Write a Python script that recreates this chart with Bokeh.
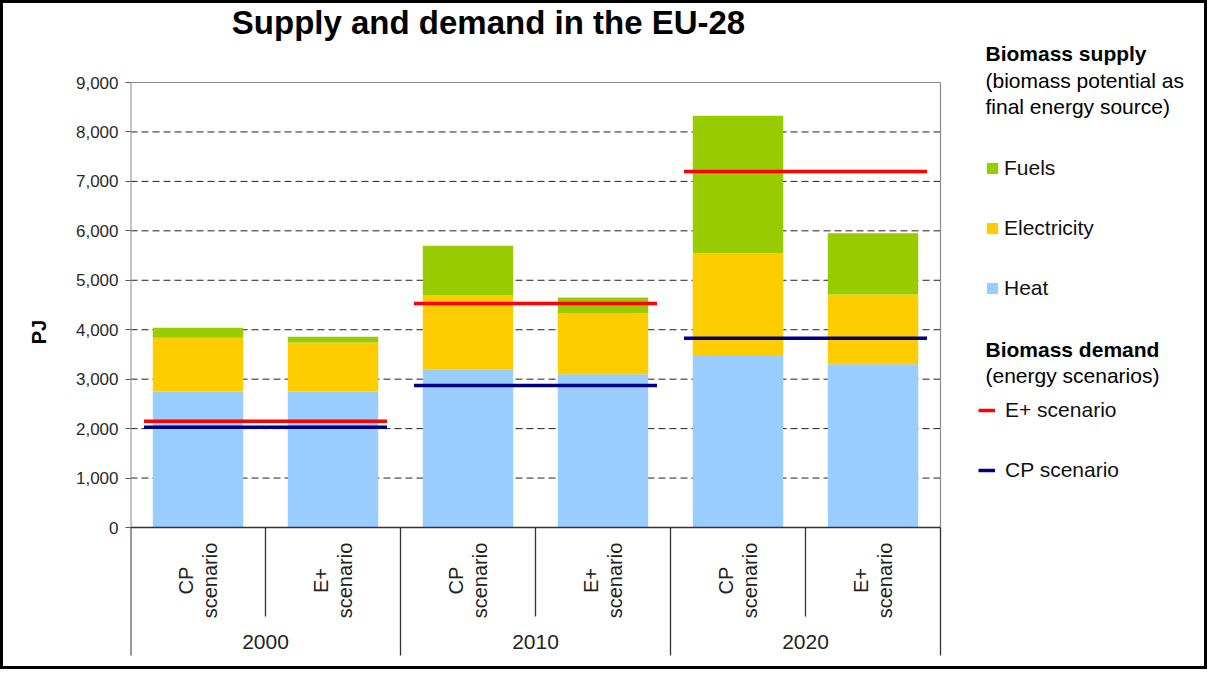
import math
from bokeh.plotting import figure
from bokeh.models import (ColumnDataSource, Range1d, FixedTicker,
                          NumeralTickFormatter, Legend, LegendItem, Label)
from bokeh.core.properties import value
from bokeh.embed import file_html
from bokeh.resources import INLINE

# ---------------- data ----------------
years = ["2000", "2010", "2020"]
scenarios = ["CP\nscenario", "E+\nscenario"]
heat = [2750, 2750, 3200, 3100, 3470, 3300]
electricity = [1090, 990, 1490, 1230, 2080, 1410]
fuels = [200, 120, 1010, 320, 2780, 1240]
demand_eplus = [2150, 4530, 7200]
demand_cp = [2030, 2870, 3830]
y_ticks = [0, 1000, 2000, 3000, 4000, 5000, 6000, 7000, 8000, 9000]

supply_names = ["Heat", "Electricity", "Fuels"]
supply_colors = ["#99CCFF", "#FFCC00", "#99CC00"]

FONT = "Liberation Sans"

# ---------------- layout (pixels) ----------------
W, H = 1207, 669
FRAME_L, FRAME_B = 127, 657          # frame left / bottom in canvas px
PX_ZERO, PX_TOP = 524, 79            # canvas y of value 0 and of the top tick
CAT_PX = 135                         # width of one category in px

n_groups = len(years)
n_sub = len(scenarios)
n_cats = n_groups * n_sub
units_per_px = y_ticks[-1] / (PX_ZERO - PX_TOP)
y_start = -(FRAME_B - PX_ZERO) * units_per_px
y_end = y_ticks[-1] + PX_TOP * units_per_px
x_end = (W - FRAME_L) / CAT_PX

cats = [(y, s) for y in years for s in scenarios]
xc = [i + 0.5 for i in range(n_cats)]
source = ColumnDataSource(dict(x=xc, Heat=heat, Electricity=electricity, Fuels=fuels))

p = figure(width=W, height=H, output_backend="svg", toolbar_location=None,
           x_range=Range1d(0, x_end), y_range=Range1d(y_start, y_end),
           x_axis_location=None,
           min_border_left=FRAME_L, min_border_right=0, min_border_top=0,
           min_border_bottom=H - FRAME_B)
p.outline_line_color = None
p.background_fill_color = "white"
p.border_fill_color = "white"
p.styles = {"border": "3px solid black"}
p.xgrid.visible = False
p.ygrid.visible = False

# y axis
yax = p.yaxis[0]
yax.ticker = FixedTicker(ticks=y_ticks)
yax.formatter = NumeralTickFormatter(format="0,0")
yax.axis_line_color = None
yax.major_tick_in = 0
yax.major_tick_out = 5
yax.major_tick_line_color = "#555555"
yax.minor_tick_line_color = None
yax.major_label_text_font = FONT
yax.major_label_text_font_size = "17px"
yax.major_label_text_color = "#2a2a2a"
yax.major_label_standoff = 7
yax.axis_label = "PJ"
yax.axis_label_text_font = FONT
yax.axis_label_text_font_size = "20px"
yax.axis_label_text_font_style = "bold"
yax.axis_label_text_color = "black"
yax.axis_label_standoff = 23

# dashed grid lines (only across the plot area)
grid_vals = y_ticks[1:-1]
p.segment(x0=0, x1=n_cats, y0=grid_vals, y1=grid_vals, line_color="#222222",
          line_width=1, line_dash="7 4")

# bars
bars = p.vbar_stack(supply_names, x="x", width=0.67, color=supply_colors,
                    line_color=None, source=source)

# plot-area frame lines
top_v = y_ticks[-1]
p.segment(x0=[0, n_cats, 0], x1=[0, n_cats, n_cats], y0=[0, 0, top_v], y1=[top_v, top_v, top_v],
          line_color="#8a8a8a", line_width=[2, 1.2, 1.2])
p.segment(x0=0, x1=n_cats, y0=0, y1=0, line_color="#333333", line_width=1.5)

# category separators
grp_bounds = [g * n_sub for g in range(n_groups + 1)]
sub_bounds = [g * n_sub + k for g in range(n_groups) for k in range(1, n_sub)]
p.segment(x0=grp_bounds, x1=grp_bounds, y0=-2590, y1=0, line_color="#333333",
          line_width=[2, 1.3, 1.3, 1.3])
p.segment(x0=sub_bounds, x1=sub_bounds, y0=-1800, y1=0, line_color="#333333", line_width=1.3)

# category labels
p.text(x=xc, y=-1072, text=[c[1] for c in cats], angle=math.pi / 2,
       text_align="center", text_baseline="middle", text_font=value(FONT),
       text_font_size="20px", text_color="#222222", text_line_height=1.05)
gx = [g * n_sub + n_sub / 2 for g in range(n_groups)]
p.text(x=gx, y=-2306, text=years, text_align="center", text_baseline="middle",
       text_font=value(FONT), text_font_size="21px", text_color="#222222")

# demand lines
x0s = [c - 0.9 for c in gx]
x1s = [c + 0.9 for c in gx]
r_e = p.segment(x0=x0s, x1=x1s, y0=demand_eplus, y1=demand_eplus, line_color="#FF0000", line_width=3.5)
r_c = p.segment(x0=x0s, x1=x1s, y0=demand_cp, y1=demand_cp, line_color="#000080", line_width=3.5)

# title
p.add_layout(Label(x=358, y=638, x_units="screen", y_units="screen",
                   text="Supply and demand in the EU-28", text_font=FONT,
                   text_font_size="33px", text_font_style="bold", text_color="black",
                   text_align="center", text_baseline="middle"))

# legends
leg1 = Legend(items=[LegendItem(label="Fuels", renderers=[bars[2]]),
                     LegendItem(label="Electricity", renderers=[bars[1]]),
                     LegendItem(label="Heat", renderers=[bars[0]])],
              location=(855, 360))
leg2 = Legend(items=[LegendItem(label="E+ scenario", renderers=[r_e]),
                     LegendItem(label="CP scenario", renderers=[r_c])],
              location=(848, 178))
for lg, gw, st in ((leg1, 14, 5), (leg2, 17, 10)):
    lg.glyph_width = gw
    lg.glyph_height = 14
    lg.label_standoff = st
    lg.label_height = 24
    lg.spacing = 36
    lg.padding = 0
    lg.margin = 0
    lg.border_line_color = None
    lg.background_fill_alpha = 0
    lg.label_text_font = FONT
    lg.label_text_font_size = "21px"
    lg.label_text_color = "#111111"
    p.add_layout(lg, "center")

for txt, yy, bold in (("Biomass supply", 607, True), ("(biomass potential as", 580, False),
                      ("final energy source)", 554, False), ("Biomass demand", 311, True),
                      ("(energy scenarios)", 285, False)):
    p.add_layout(Label(x=855, y=yy, x_units="screen", y_units="screen", text=txt,
                       text_font=FONT, text_font_size="21px",
                       text_font_style="bold" if bold else "normal",
                       text_color="black", text_baseline="middle", text_align="left"))

open("out.html", "w").write(file_html(p, INLINE))
